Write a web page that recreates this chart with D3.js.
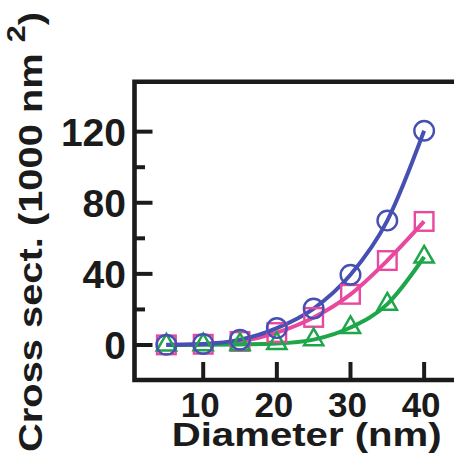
<!DOCTYPE html>
<html><head><meta charset="utf-8">
<script src="https://cdn.jsdelivr.net/npm/d3@7"></script>
<style>html,body{margin:0;padding:0;background:#fff;}svg{display:block;}</style>
</head><body><svg id="c" width="454" height="463"></svg>
<script>
const diameters = [5, 10, 15, 20, 25, 30, 35, 40];
const blueValues = [0.1, 0.6, 3, 9.5, 20.5, 39.5, 70, 120.5];
const pinkValues = [0.05, 0.4, 2, 7, 15.5, 28.5, 47.5, 69.5];
const greenValues = [0, 0.1, 0.3, 0.8, 3, 9.8, 23, 49.5];
const xTicks = [10, 20, 30, 40];
const yTicks = [0, 40, 80, 120];
const yMinorTicks = [20, 60, 100];
const xTitle = "Diameter (nm)";
const yTitle = "Cross sect. (1000 nm ";
const ySup = "2";

const svg = d3.select("#c");
const L = 134.5, R = 458, T = 81.7, B = 380;
const x = d3.scaleLinear().domain([0.67, 44.6]).range([L, R]);
const y = d3.scaleLinear().domain([-19.7, 148.1]).range([B, T]);
const font = "'Liberation Sans', Arial, sans-serif";
const ink = "#1b1b1b";

const series = [
  {vals: pinkValues, color: "#e8489e", sym: "square"},
  {vals: greenValues, color: "#1ea64b", sym: "triangle"},
  {vals: blueValues, color: "#4650b3", sym: "circle"}
];
const line = d3.line().x((d,i)=>x(diameters[i])).y(d=>y(d)).curve(d3.curveMonotoneX);
series.forEach(s => {
  svg.append("path").attr("d", line(s.vals)).attr("fill","none")
    .attr("stroke", s.color).attr("stroke-width", 4).attr("stroke-linejoin","round");
});
series.forEach(s => {
  const g = svg.append("g");
  s.vals.forEach((v,i) => {
    const cx = x(diameters[i]), cy = y(v);
    if (s.sym === "circle") {
      g.append("circle").attr("cx",cx).attr("cy",cy).attr("r",9.8)
        .attr("fill","none").attr("stroke",s.color).attr("stroke-width",2.4);
    } else if (s.sym === "square") {
      g.append("rect").attr("x",cx-9.3).attr("y",cy-9.3).attr("width",18.6).attr("height",18.6)
        .attr("fill","none").attr("stroke",s.color).attr("stroke-width",2.4);
    } else {
      g.append("path").attr("transform",`translate(${cx},${cy})`)
        .attr("d", d3.symbol().type(d3.symbolTriangle).size(160)())
        .attr("fill","none").attr("stroke",s.color).attr("stroke-width",2.5);
    }
  });
});

svg.append("path").attr("d",`M${R},${T}H${L}V${B}H${R}`)
  .attr("fill","none").attr("stroke",ink).attr("stroke-width",4.6);

svg.append("g").selectAll("line").data(yTicks).join("line")
  .attr("x1",L).attr("x2",L+18).attr("y1",d=>y(d)).attr("y2",d=>y(d))
  .attr("stroke",ink).attr("stroke-width",4);
svg.append("g").selectAll("line").data(yMinorTicks).join("line")
  .attr("x1",L).attr("x2",L+10.5).attr("y1",d=>y(d)).attr("y2",d=>y(d))
  .attr("stroke",ink).attr("stroke-width",4);
svg.append("g").selectAll("text").data(yTicks).join("text")
  .attr("x",126).attr("y",d=>y(d)).attr("dy","0.36em").attr("text-anchor","end")
  .attr("font-family",font).attr("font-weight","bold").attr("font-size",39)
  .attr("fill",ink).text(d=>d);

svg.append("g").selectAll("line").data(xTicks).join("line")
  .attr("x1",d=>x(d)).attr("x2",d=>x(d)).attr("y1",B).attr("y2",B-18)
  .attr("stroke",ink).attr("stroke-width",4);
svg.append("g").selectAll("text").data(xTicks).join("text")
  .attr("x",d=>x(d)-3).attr("y",417).attr("text-anchor","middle")
  .attr("font-family",font).attr("font-weight","bold").attr("font-size",35)
  .attr("fill",ink).text(d=>d);

svg.append("text").attr("x",306.7).attr("y",446).attr("text-anchor","middle")
  .attr("font-family",font).attr("font-weight","bold").attr("font-size",34)
  .attr("textLength",270).attr("lengthAdjust","spacingAndGlyphs")
  .attr("fill",ink).text(xTitle);

const yt = svg.append("text").attr("transform","translate(42,232) rotate(-90)")
  .attr("text-anchor","middle")
  .attr("font-family",font).attr("font-weight","bold").attr("font-size",34)
  .attr("textLength",440).attr("lengthAdjust","spacingAndGlyphs")
  .attr("fill",ink);
yt.append("tspan").text(yTitle);
yt.append("tspan").attr("dy",-17).attr("font-size",26).text(ySup);
yt.append("tspan").attr("dy",17).text(")");
</script></body></html>
